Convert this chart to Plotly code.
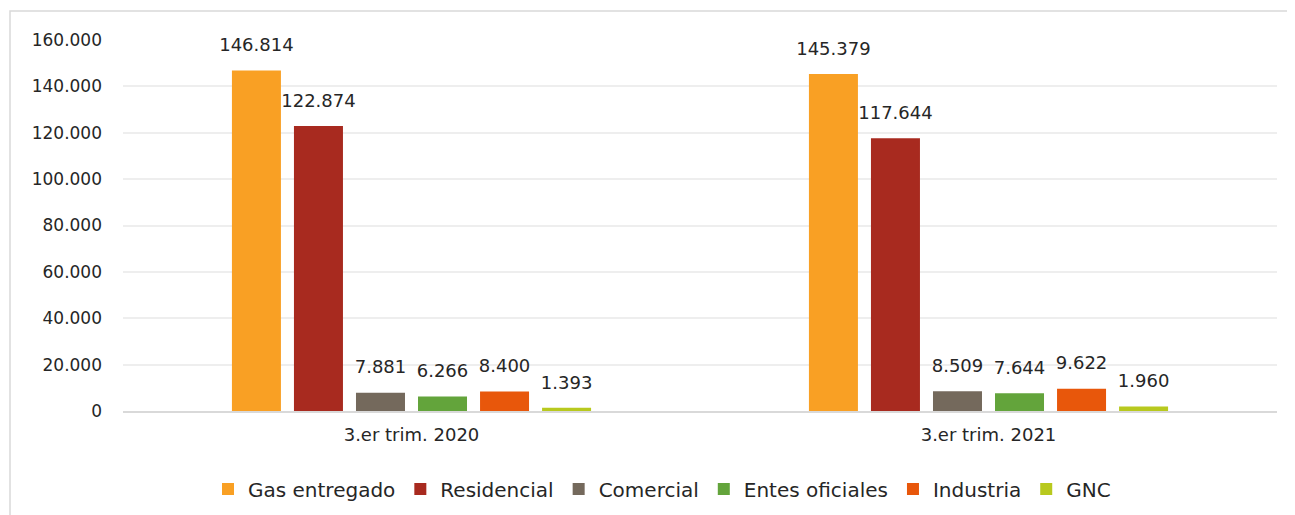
import plotly.graph_objects as go

categories = ["3.er trim. 2020", "3.er trim. 2021"]
series_names = ["Gas entregado", "Residencial", "Comercial", "Entes oficiales", "Industria", "GNC"]
gas_entregado = [146814, 145379]
residencial = [122874, 117644]
comercial = [7881, 8509]
entes_oficiales = [6266, 7644]
industria = [8400, 9622]
gnc = [1393, 1960]
y_ticks = [0, 20000, 40000, 60000, 80000, 100000, 120000, 140000, 160000]

values = [gas_entregado, residencial, comercial, entes_oficiales, industria, gnc]
colors = ["#F9A024", "#A82A1F", "#74695C", "#63A43B", "#E8570B", "#B8C91E"]

FONT = "DejaVu Sans"
# page body has an 8px default margin; figure coords are shifted accordingly
OFF = 8
L, R_EDGE, TOP, ZERO = 123 - OFF, 1277 - OFF, 40 - OFF, 411 - OFF
W, H = 1295, 515
plot_w, plot_h = R_EDGE - L, ZERO - TOP
GAP = 0.355

fig = go.Figure()
for i, (name, vals, col) in enumerate(zip(series_names, values, colors)):
    fig.add_trace(go.Bar(
        x=categories, y=vals, name=name, marker_color=col, marker_line_width=0,
        offsetgroup=str(i), hoverinfo="name+y",
    ))
for i, (name, vals, col) in enumerate(zip(series_names, values, colors)):
    fig.add_trace(go.Scatter(
        x=categories, y=vals, name=name, mode="markers+text",
        marker=dict(size=22, opacity=0, color=col),
        text=vals, texttemplate="%{y:,.0f}", textposition="top center",
        textfont=dict(size=18, color="#262626", family=FONT),
        offsetgroup=str(i), showlegend=False, hoverinfo="skip", cliponaxis=False,
    ))

fig.update_layout(
    width=W, height=H,
    margin=dict(l=L, r=W - R_EDGE, t=TOP, b=H - ZERO, autoexpand=False),
    paper_bgcolor="white", plot_bgcolor="white",
    barmode="group", bargap=GAP, bargroupgap=0.21,
    scattermode="group", scattergap=GAP,
    separators=",.",
    font=dict(family=FONT, size=17, color="#262626"),
    showlegend=True,
    legend=dict(orientation="h", x=(662 - 123) / 1154, xanchor="center", yref="container",
                y=(H - (489 - OFF)) / H, yanchor="middle",
                font=dict(size=20, family=FONT, color="#262626"), itemwidth=30,
                traceorder="normal", itemclick=False),
    xaxis=dict(showgrid=False, showline=True, linecolor="#D9D9D9", linewidth=1.5,
               ticks="", tickfont=dict(size=18, family=FONT), ticklabelstandoff=7,
               automargin=False, fixedrange=True),
    yaxis=dict(range=[0, 160000], tickvals=y_ticks, tickformat=",.0f",
               showgrid=True, gridcolor="#EEEEEE", gridwidth=1.5, zeroline=False,
               showline=False, ticks="", ticklabelstandoff=20, automargin=False,
               tickfont=dict(size=17, family=FONT), fixedrange=True),
    shapes=[dict(type="rect", xref="paper", yref="paper",
                 x0=(10 - 123) / plot_w, x1=1.1, y0=-0.4, y1=(411 - 11) / plot_h,
                 line=dict(color="#D9D9D9", width=1.5), fillcolor="rgba(0,0,0,0)", layer="below")],
)

fig.write_html("out.html")
